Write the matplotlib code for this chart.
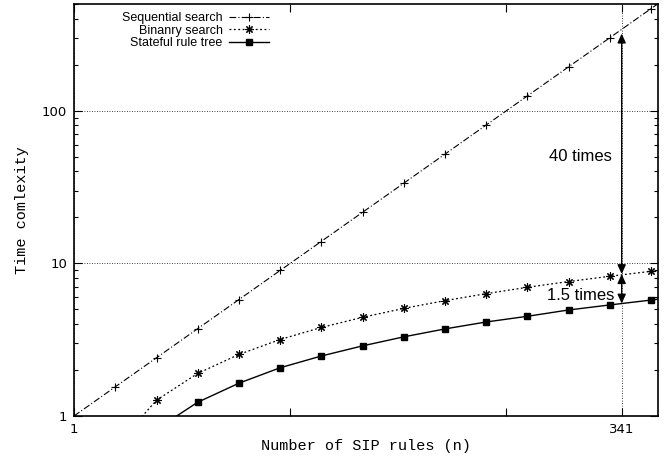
import matplotlib
matplotlib.use("Agg")
import matplotlib.pyplot as plt

# sample points (n) where gnuplot put its markers, plus the right edge
n_rules = [1, 1.55, 2.41, 3.73, 5.79, 8.98, 13.9, 21.6, 33.5, 52.0, 80.6, 125, 194, 301, 467, 500]
sequential = [1, 1.55, 2.41, 3.73, 5.79, 8.98, 13.9, 21.6, 33.5, 52.0, 80.6, 125, 194, 301, 467, 500]
binary = [0.01, 0.63, 1.27, 1.90, 2.53, 3.17, 3.80, 4.43, 5.07, 5.70, 6.33, 6.97, 7.60, 8.23, 8.87, 8.97]
stateful = [0.01, 0.41, 0.82, 1.23, 1.64, 2.07, 2.47, 2.88, 3.30, 3.72, 4.13, 4.50, 4.95, 5.34, 5.75, 5.82]

# annotated values at n = 341
n_mark = 341
seq_341 = 320
bin_341 = 8.5
tree_341 = 5.45

fig = plt.figure(figsize=(6.69, 4.58), dpi=100)
ax = fig.add_axes([0.1106, 0.0917, 0.8724, 0.8996])
ax.set_xscale("log")
ax.set_yscale("log")
ax.set_xlim(1, 500)
ax.set_ylim(1, 500)

mk = dict(markevery=list(range(len(n_rules) - 1)))
ax.plot(n_rules, sequential, color="black", lw=0.8, linestyle=(0, (6, 2, 1, 2)),
        marker="+", ms=6, mew=0.8, label="Sequential search", **mk)
ax.plot(n_rules, binary, color="black", lw=0.9, linestyle=(0, (1.5, 2)),
        marker=(8, 2, 0), ms=6, mew=0.8, label="Binanry search", **mk)
ax.plot(n_rules, stateful, color="black", lw=1.0, linestyle="-",
        marker="s", ms=5, label="Stateful rule tree", **mk)

# ticks in gnuplot style
ax.set_xticks([1, n_mark])
ax.set_xticklabels(["1", "341"])
ax.set_xticks([10, 100], minor=True)
ax.set_xticklabels(["", ""], minor=True)
ax.set_yticks([1, 10, 100])
ax.set_yticklabels(["1", "10", "100"])
ax.tick_params(which="both", direction="in", top=True, right=True, labelsize=9.5,
               width=0.8, pad=5)
ax.tick_params(which="major", length=6)
ax.tick_params(which="minor", length=3)
ax.tick_params(axis="x", which="minor", length=6)
ax.grid(True, which="major", color="black", linestyle=(0, (1, 2)), lw=0.6)
for s in ax.spines.values():
    s.set_linewidth(1.2)

ax.set_xlabel("Number of SIP rules (n)", family="Liberation Mono", fontsize=11, labelpad=2)
ax.set_ylabel("Time comlexity", family="Liberation Mono", fontsize=11, labelpad=9)

# ratio arrows
arr = dict(arrowstyle="<|-|>,head_length=0.55,head_width=0.25", color="black", lw=1.0,
           mutation_scale=10, shrinkA=0, shrinkB=0)
ax.annotate("", xy=(n_mark, seq_341), xytext=(n_mark, bin_341), arrowprops=arr)
ax.annotate("", xy=(n_mark, bin_341), xytext=(n_mark, tree_341), arrowprops=arr)
ax.text(308, 50, "40 times", ha="right", va="center", fontsize=12, family="Liberation Sans")
ax.text(315, 6.15, "1.5 times", ha="right", va="center", fontsize=12, family="Liberation Sans")

leg = ax.legend(loc="upper left", bbox_to_anchor=(0.065, 1.005), markerfirst=False, frameon=False,
                prop={"family": "Liberation Sans", "size": 9}, handlelength=3.2,
                labelspacing=0.05, handletextpad=0.5, borderpad=0.3)
for t in leg.get_texts():
    t.set_ha("right")

fig.savefig("out.png", dpi=100)
